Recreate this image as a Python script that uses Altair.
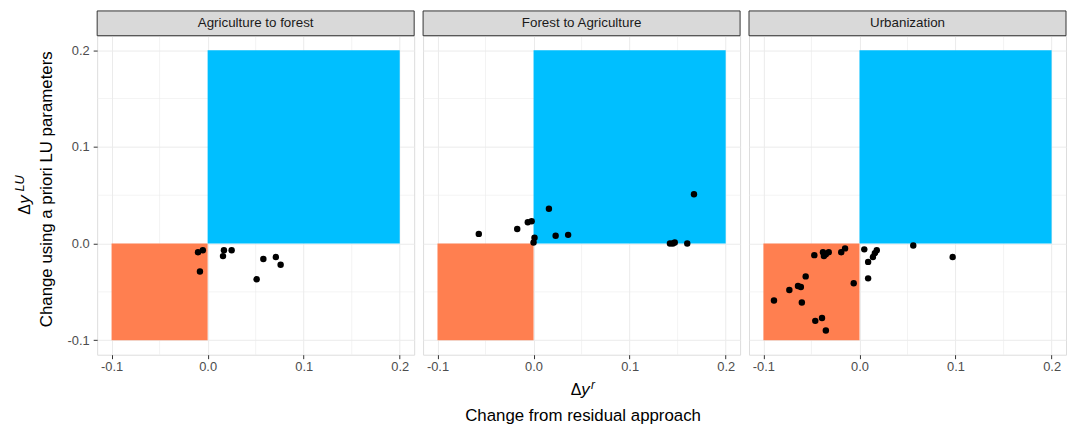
import altair as alt
import pandas as pd

# ---------------- data ----------------
panel_names = ["Agriculture to forest", "Forest to Agriculture", "Urbanization"]

agri_forest_x = [-0.010, -0.005, -0.008, 0.017, 0.016, 0.025, 0.058, 0.071, 0.076, 0.051]
agri_forest_y = [-0.009, -0.007, -0.029, -0.007, -0.013, -0.007, -0.016, -0.014, -0.022, -0.037]

forest_agri_x = [-0.057, -0.017, -0.006, -0.002, 0.001, 0.000, 0.016, 0.023, 0.036,
                 0.142, 0.145, 0.147, 0.160, 0.167]
forest_agri_y = [0.010, 0.015, 0.022, 0.023, 0.006, 0.001, 0.036, 0.008, 0.009,
                 0.000, 0.000, 0.001, 0.000, 0.051]

urban_x = [-0.089, -0.073, -0.064, -0.061, -0.060, -0.056, -0.047, -0.038, -0.037, -0.035,
           -0.032, -0.019, -0.015, -0.006, -0.039, -0.046, -0.035, 0.005, 0.009, 0.009,
           0.014, 0.016, 0.018, 0.056, 0.097]
urban_y = [-0.059, -0.048, -0.044, -0.045, -0.061, -0.034, -0.012, -0.009, -0.013, -0.011,
           -0.009, -0.009, -0.005, -0.041, -0.077, -0.080, -0.090, -0.006, -0.036, -0.019,
           -0.014, -0.010, -0.007, -0.002, -0.014]

quad_x0 = [0.0, -0.1]
quad_x1 = [0.2, 0.0]
quad_y0 = [0.0, -0.1]
quad_y1 = [0.2, 0.0]
quad_fill = ["#00BFFF", "#FF7F50"]

tick_values = [-0.1, 0.0, 0.1, 0.2]
minor_values = [-0.05, 0.05, 0.15]
axis_domain = [-0.115, 0.215]

y_title = "Change using a priori LU parameters"
x_title = "Change from residual approach"

# ---------------- layout ----------------
W, H = 320, 322
FONT = "Liberation Sans"
GRID = "#ebebeb"
LABEL_EXPR = "datum.value < 0 ? '-' + format(-datum.value, '.1f') : format(datum.value, '.1f')"

quad_df = pd.DataFrame({"x0": quad_x0, "x1": quad_x1, "y0": quad_y0, "y1": quad_y1, "fill": quad_fill})
minor_df = pd.DataFrame({"v": minor_values})


def txt(s, x, y, size, style="normal", angle=0, baseline="middle", color="black"):
    kw = dict(fontSize=size, fontStyle=style, font=FONT, color=color, align="center", baseline=baseline)
    if angle:
        kw["angle"] = angle
    return alt.Chart(pd.DataFrame({"t": [s]})).mark_text(**kw).encode(
        x=alt.value(x), y=alt.value(y), text="t:N")


def panel(i, xs, ys):
    scale = alt.Scale(domain=axis_domain, nice=False, zero=False)
    xaxis = alt.Axis(values=tick_values, labelExpr=LABEL_EXPR, title=None, grid=True, gridColor=GRID,
                     gridWidth=1, domain=False, tickColor="#333333", tickSize=4,
                     labelColor="#4d4d4d", labelFontSize=13, labelPadding=2,
                     labelFlush=False, labelOverlap=False, labelFont=FONT)
    first = i == 0
    yaxis = alt.Axis(values=tick_values, labelExpr=LABEL_EXPR, title=None, grid=True, gridColor=GRID,
                     gridWidth=1, domain=False, tickColor="#333333", tickSize=4,
                     labels=first, ticks=first,
                     labelColor="#4d4d4d", labelFontSize=13, labelPadding=4,
                     labelFlush=False, labelOverlap=False, labelFont=FONT)

    vminor = alt.Chart(minor_df).mark_rule(color=GRID, strokeWidth=0.6).encode(
        x=alt.X("v:Q", scale=scale, axis=xaxis))
    hminor = alt.Chart(minor_df).mark_rule(color=GRID, strokeWidth=0.6).encode(
        y=alt.Y("v:Q", scale=scale, axis=yaxis))
    quad = alt.Chart(quad_df).mark_rect(opacity=1).encode(
        x=alt.X("x0:Q", scale=scale, axis=xaxis), x2="x1:Q",
        y=alt.Y("y0:Q", scale=scale, axis=yaxis), y2="y1:Q",
        color=alt.Color("fill:N", scale=None))
    pts = alt.Chart(pd.DataFrame({"x": xs, "y": ys})).mark_circle(
        size=42, color="black", opacity=1).encode(
        x=alt.X("x:Q", scale=scale, axis=xaxis),
        y=alt.Y("y:Q", scale=scale, axis=yaxis))
    strip = alt.Chart(pd.DataFrame({"t": [panel_names[i]]})).mark_rect(
        fill="#d9d9d9", stroke="#333333", strokeWidth=1).encode(
        x=alt.value(0), x2=alt.value(W), y=alt.value(-25), y2=alt.value(0))
    strip_text = txt(panel_names[i], W / 2, -12.5, 13.5, color="#1a1a1a")

    layers = [hminor, vminor, quad, pts, strip, strip_text]
    if i == 0:
        layers += [
            txt("Δ", -73, 175.5, 16, angle=270),
            txt("y", -73, 165.5, 17, style="italic", angle=270),
            txt("LU", -78, 149, 13, style="italic", angle=270),
            txt(y_title, -51, 155, 17, angle=270),
        ]
    if i == 1:
        c = W / 2
        layers += [
            txt("Δ", c - 5.5, 363, 16, baseline="alphabetic"),
            txt("y", c + 4, 363, 17, style="italic", baseline="alphabetic"),
            txt("r", c + 11.5, 357, 12, style="italic", baseline="alphabetic"),
            txt(x_title, c + 1.5, 389, 17, baseline="alphabetic"),
        ]
    return alt.layer(*layers).properties(width=W, height=H)


chart = alt.hconcat(
    panel(0, agri_forest_x, agri_forest_y),
    panel(1, forest_agri_x, forest_agri_y),
    panel(2, urban_x, urban_y),
    spacing=9,
    bounds="flush",
).properties(
    padding={"left": 5, "top": 0, "right": 0, "bottom": 0}
).configure_view(
    stroke="#333333", strokeWidth=1
).configure(font=FONT)

chart.save("out.html", embed_options={"renderer": "svg", "actions": False})
